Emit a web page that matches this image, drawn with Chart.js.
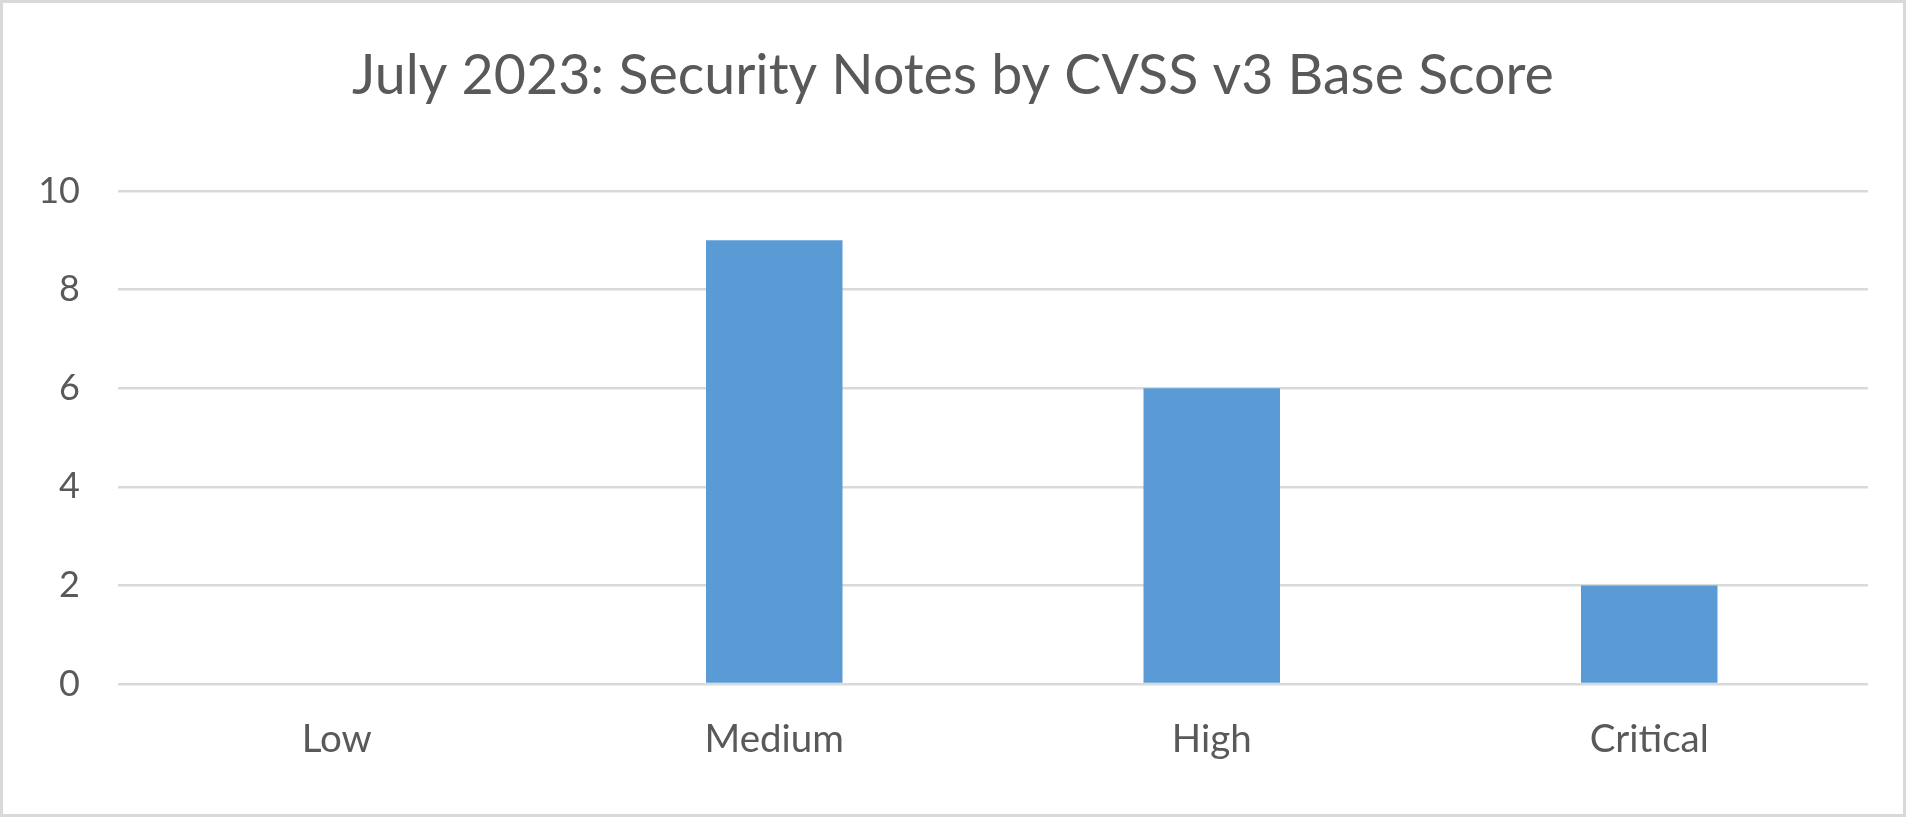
<!DOCTYPE html>
<html>
<head>
<meta charset="utf-8">
<script src="https://cdn.jsdelivr.net/npm/chart.js@4/dist/chart.umd.min.js"></script>
<style>
  html, body { margin: 0; padding: 0; background: #fff; }
  #wrap { position: relative; width: 1906px; height: 817px; }
  canvas { display: block; }
</style>
</head>
<body>
<div id="wrap"><canvas id="c" width="1906" height="817"></canvas></div>
<script>
const chartTitle = 'July 2023: Security Notes by CVSS v3 Base Score';
const categories = ['Low', 'Medium', 'High', 'Critical'];
const noteCounts = [0, 9, 6, 2];
const yTicks = [0, 2, 4, 6, 8, 10];

const FONT = 'Lato, "Open Sans", sans-serif';
const TEXT = '#595959';
const GRID = '#D9D9D9';

const borderPlugin = {
  id: 'outerBorder',
  afterDraw(chart) {
    const ctx = chart.ctx;
    ctx.save();
    ctx.strokeStyle = '#D9D9D9';
    ctx.lineWidth = 3;
    ctx.strokeRect(1.5, 1.5, chart.width - 3, chart.height - 3);
    ctx.restore();
  }
};

new Chart(document.getElementById('c'), {
  type: 'bar',
  data: {
    labels: categories,
    datasets: [{
      data: noteCounts,
      backgroundColor: '#5B9BD5',
      borderWidth: 0,
      categoryPercentage: 1.0,
      barPercentage: 0.312
    }]
  },
  options: {
    responsive: false,
    animation: false,
    devicePixelRatio: 1,
    layout: { padding: { top: 0, left: 38, right: 38, bottom: 0 } },
    plugins: {
      legend: { display: false },
      tooltip: { enabled: false },
      title: {
        display: true,
        text: chartTitle,
        color: TEXT,
        font: { family: FONT, size: 55.5, weight: 'normal' },
        padding: { top: 43, bottom: 81.4 }
      }
    },
    scales: {
      x: {
        offset: true,
        border: { display: false },
        grid: { display: false, drawTicks: false },
        ticks: {
          color: TEXT,
          font: { family: FONT, size: 38.5 },
          padding: 32,
          maxRotation: 0
        },
        afterFit(scale) { scale.height = 133; }
      },
      y: {
        min: 0,
        max: 10,
        afterBuildTicks(scale) { scale.ticks = yTicks.map(v => ({ value: v })); },
        border: { display: false },
        grid: { color: GRID, lineWidth: 2.5, drawTicks: false },
        ticks: {
          color: TEXT,
          font: { family: FONT, size: 36 },
          padding: 38
        },
        afterFit(scale) { scale.width = 80; }
      }
    }
  },
  plugins: [borderPlugin]
});
</script>
</body>
</html>
